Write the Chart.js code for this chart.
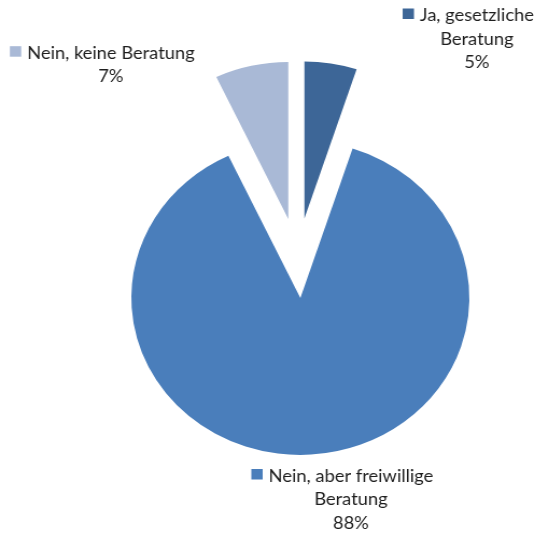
<!DOCTYPE html>
<html lang="de">
<head>
<meta charset="utf-8">
<title>Beratung</title>
<script src="https://cdn.jsdelivr.net/npm/chart.js@4"></script>
<style>
  html, body { margin: 0; padding: 0; background: #fff; overflow: hidden; }
  /* the chart is laid out a little narrower and stretched to full width */
  #wrap {
    position: relative;
    width: 497px;
    height: 533px;
    transform: scaleX(1.0765);
    transform-origin: 0 0;
  }
</style>
</head>
<body>
<div id="wrap"><canvas id="beratungChart"></canvas></div>
<script>
const labels = ["Ja, gesetzliche Beratung", "Nein, aber freiwillige Beratung", "Nein, keine Beratung"];
const labelLines = [["Ja, gesetzliche", "Beratung"], ["Nein, aber freiwillige", "Beratung"], ["Nein, keine Beratung"]];
const percentages = [5, 88, 7];
const colors = ["#3D6697", "#4A7EBB", "#A9B9D6"];

const EXPLODE = 40; // how far each slice is pulled out of the centre

// draw every slice pushed outwards along its own middle angle
const explodePlugin = {
    id: "explode",
    beforeDatasetDraw(chart, args) {
        const ctx = chart.ctx;
        args.meta.data.forEach(arc => {
            const mid = (arc.startAngle + arc.endAngle) / 2;
            ctx.save();
            ctx.translate(Math.cos(mid) * EXPLODE, Math.sin(mid) * EXPLODE);
            arc.draw(ctx);
            ctx.restore();
        });
        return false;
    }
};

// label boxes: centre x and baseline of first line
const labelPos = [
    { x: 443, y: 21 },
    { x: 326, y: 481.5 },
    { x: 103, y: 58.7 }
];

const labelPlugin = {
    id: "sliceLabels",
    afterDraw(chart) {
        const ctx = chart.ctx;
        const lineH = 23.7;
        ctx.save();
        ctx.font = "17px Lato";
        ctx.textAlign = "center";
        ctx.textBaseline = "alphabetic";
        labelLines.forEach((lines, i) => {
            const pos = labelPos[i];
            const rows = lines.concat([percentages[i] + "%"]);
            rows.forEach((row, j) => {
                ctx.fillStyle = "#1e1e1e";
                ctx.fillText(row, pos.x, pos.y + j * lineH);
            });
            // legend key in front of the first line
            const w = ctx.measureText(rows[0]).width;
            ctx.fillStyle = colors[i];
            ctx.fillRect(pos.x - w / 2 - 16, pos.y - 12.5, 10.5, 10.5);
        });
        ctx.restore();
    }
};

const ctx = document.getElementById("beratungChart").getContext("2d");
new Chart(ctx, {
    type: "pie",
    data: {
        labels: labels,
        datasets: [
            {
                data: percentages,
                backgroundColor: colors,
                borderWidth: 0
            }
        ]
    },
    options: {
        responsive: true,
        maintainAspectRatio: false,
        animation: false,
        radius: 157,
        layout: {
            padding: { left: 56, right: 0, top: 0, bottom: 17 }
        },
        plugins: {
            legend: { display: false },
            tooltip: { enabled: false }
        }
    },
    plugins: [explodePlugin, labelPlugin]
});
</script>
</body>
</html>
